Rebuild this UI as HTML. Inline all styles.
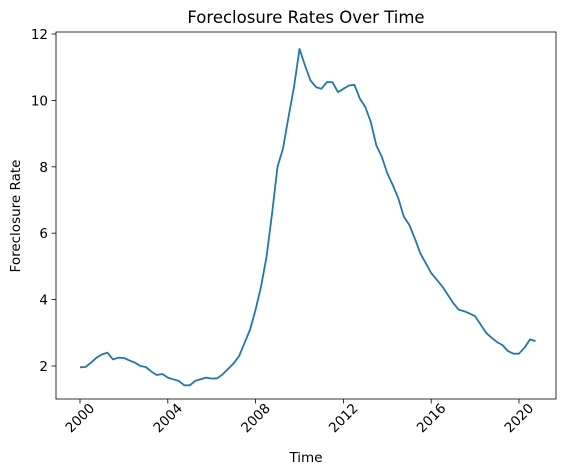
<!DOCTYPE html>
<html><head><meta charset="utf-8"><style>body{margin:0;background:#fff}svg{display:block;font-family:"DejaVu Sans","Liberation Sans",sans-serif}</style></head>
<body>
<svg id="chart" width="562" height="476" viewBox="0 0 562 476"></svg>
<script>
const years = [];
for (let i = 0; i < 84; i++) years.push(2000 + i * 0.25);
const rates = [1.96,1.97,2.1,2.25,2.35,2.4,2.2,2.25,2.24,2.17,2.1,2.0,1.97,1.83,1.73,1.76,1.65,1.6,1.55,1.42,1.42,1.55,1.6,1.65,1.62,1.63,1.75,1.92,2.08,2.3,2.7,3.1,3.7,4.4,5.3,6.6,8.0,8.55,9.5,10.4,11.55,11.05,10.6,10.4,10.35,10.55,10.55,10.25,10.35,10.45,10.47,10.05,9.8,9.35,8.65,8.3,7.8,7.45,7.05,6.5,6.25,5.85,5.4,5.1,4.8,4.6,4.4,4.15,3.9,3.7,3.65,3.58,3.5,3.25,3.0,2.85,2.72,2.63,2.45,2.37,2.37,2.55,2.8,2.75];
const xTicks = [2000,2004,2008,2012,2016,2020];
const yTicks = [2,4,6,8,10,12];
const L=56,R=556,T=32,B=399;
const xS = v => 80 + (v-2000)*21.95;
const yS = v => 432.4 - v*33.2;
const svg = document.getElementById('chart');
const NS='http://www.w3.org/2000/svg';
function mk(tag, attrs, parent){const e=document.createElementNS(NS,tag);for(const k in attrs)e.setAttribute(k,attrs[k]);(parent||svg).appendChild(e);return e;}
const frame = mk('rect',{x:L,y:T,width:R-L,height:B-T,fill:'none',stroke:'#000','stroke-width':0.8});


xTicks.forEach(t=>{
  const x=xS(t);
  const tk=mk('line',{x1:x,x2:x,y1:B,y2:B+4.5,stroke:'#000','stroke-width':0.8});
  
  
  const cy=B+19;
  const tx=mk('text',{x:x,y:cy+4.5,'font-size':13.5,'text-anchor':'middle',transform:`rotate(-45 ${x} ${cy})`});
  tx.textContent=t;
  
  
});
yTicks.forEach(t=>{
  const y=yS(t);
  const tk=mk('line',{x1:L-4.5,x2:L,y1:y,y2:y,stroke:'#000','stroke-width':0.8});
  
  
  const tx=mk('text',{x:L-8,y:y+5,'font-size':13.5,'text-anchor':'end'});
  tx.textContent=t;
  
  
});
const d = years.map((y,i)=>(i?'L':'M')+xS(y).toFixed(1)+','+yS(rates[i]).toFixed(1)).join('');
const line = mk('path',{d:d,fill:'none',stroke:'#1f77b4','stroke-width':1.8,'stroke-linejoin':'round'});


const title=mk('text',{x:306,y:23,'font-size':16.5,'text-anchor':'middle'});
title.textContent='Foreclosure Rates Over Time';


const xl=mk('text',{x:306,y:462,'font-size':13.5,'text-anchor':'middle'});
xl.textContent='Time';


const yl=mk('text',{x:20,y:216,'font-size':13.5,'text-anchor':'middle',transform:'rotate(-90 20 216)'});
yl.textContent='Foreclosure Rate';


</script>
</body></html>
